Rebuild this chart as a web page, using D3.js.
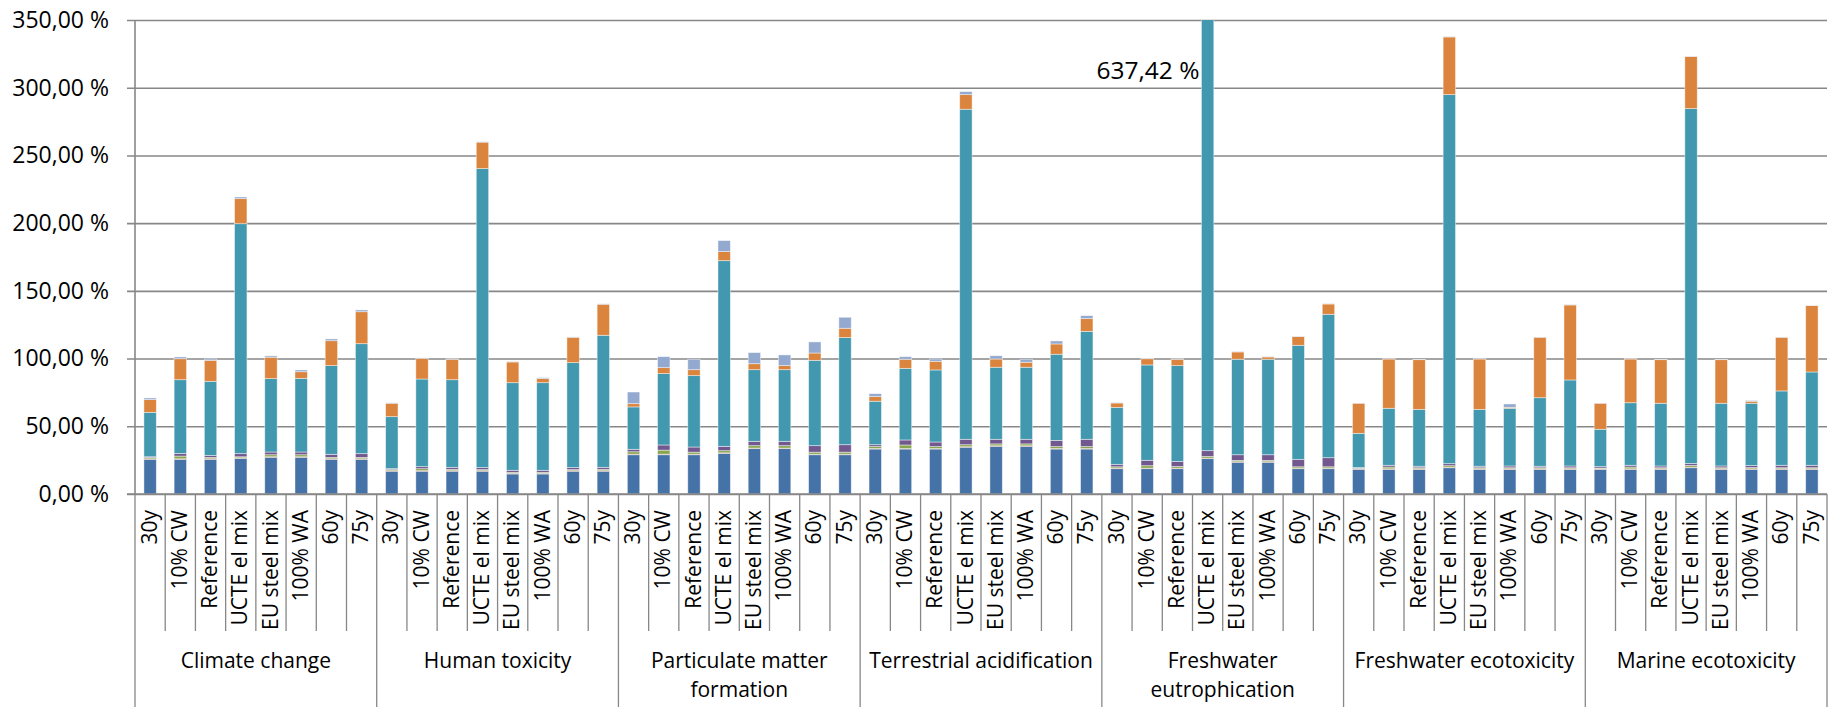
<!DOCTYPE html>
<html>
<head>
<meta charset="utf-8">
<script src="https://cdn.jsdelivr.net/npm/d3@7"></script>
<style>
    body { margin: 0; background: #fff; }
    text { font-family: "Open Sans", sans-serif; fill: #000; }
</style>
</head>
<body>
<div id="chart"></div>
<script>
const groups = ["Climate change", "Human toxicity", "Particulate matter formation", "Terrestrial acidification",
    "Freshwater eutrophication", "Freshwater ecotoxicity", "Marine ecotoxicity"];
const scenarios = ["30y", "10% CW", "Reference", "UCTE el mix", "EU steel mix", "100% WA", "60y", "75y"];
const yTicks = [0, 50, 100, 150, 200, 250, 300, 350];

// stacked contributions in %, bottom to top; 8 scenarios per impact group
const series1 = [
    25.6, 25.6, 25.6, 26.3, 27.1, 27.1, 25.6, 25.6,
    16.8, 16.8, 16.8, 16.8, 14.8, 14.8, 16.8, 16.8,
    29.0, 29.0, 29.0, 30.0, 33.5, 33.5, 29.0, 29.0,
    33.2, 33.2, 33.2, 34.5, 35.2, 35.2, 33.2, 33.2,
    18.7, 18.7, 18.7, 26.1, 23.4, 23.4, 18.7, 18.7,
    18.2, 18.2, 18.2, 19.4, 18.2, 18.2, 18.2, 18.2,
    18.2, 18.2, 18.2, 19.4, 18.2, 18.2, 18.2, 18.2];
const series2 = [
    0.4, 0.4, 0.4, 0.4, 0.4, 0.4, 0.4, 0.4,
    0.4, 0.4, 0.4, 0.4, 0.4, 0.4, 0.4, 0.4,
    0.4, 0.4, 0.4, 0.4, 0.4, 0.4, 0.4, 0.4,
    0.4, 0.4, 0.4, 0.4, 0.4, 0.4, 0.4, 0.4,
    0.4, 0.4, 0.4, 0.4, 0.4, 0.4, 0.4, 0.4,
    0.4, 0.4, 0.4, 0.4, 0.4, 0.4, 0.4, 0.4,
    0.4, 0.4, 0.4, 0.4, 0.4, 0.4, 0.4, 0.4];
const series3 = [
    0.9, 2.0, 1.0, 0.8, 1.5, 1.5, 1.0, 1.0,
    0.8, 1.5, 1.0, 0.8, 0.8, 0.8, 0.8, 1.0,
    1.8, 3.0, 1.5, 1.6, 1.8, 1.8, 1.5, 1.5,
    1.4, 2.6, 1.4, 1.5, 1.4, 1.4, 1.4, 1.4,
    1.0, 1.8, 1.2, 1.2, 1.0, 1.0, 1.0, 1.0,
    0.4, 1.3, 0.8, 1.1, 0.8, 0.8, 0.8, 0.8,
    0.6, 1.3, 0.8, 1.3, 0.8, 0.9, 0.8, 0.8];
const series4 = [
    0.6, 2.0, 1.5, 2.3, 2.0, 2.0, 2.3, 2.8,
    0.7, 1.5, 1.5, 1.5, 1.5, 1.5, 1.5, 1.5,
    1.8, 3.8, 3.8, 3.2, 3.2, 3.2, 4.8, 5.5,
    1.4, 3.7, 3.4, 4.0, 3.4, 3.4, 4.6, 5.4,
    1.8, 4.0, 3.8, 4.3, 4.2, 4.2, 5.5, 6.7,
    0.5, 1.3, 1.1, 1.5, 1.1, 1.3, 1.1, 1.3,
    1.0, 1.3, 1.3, 1.5, 1.3, 1.5, 1.8, 1.8];
const series5 = [
    32.8, 54.4, 54.7, 169.8, 54.2, 54.4, 65.5, 81.2,
    38.4, 64.7, 64.7, 220.8, 64.7, 64.7, 77.5, 97.5,
    31.3, 52.7, 52.7, 137.1, 52.9, 52.9, 63.0, 79.1,
    32.1, 52.9, 53.2, 243.7, 53.2, 53.2, 63.6, 79.7,
    42.1, 70.4, 70.7, 597.02, 70.5, 70.5, 84.2, 105.9,
    25.3, 42.1, 42.0, 272.5, 42.0, 42.6, 50.6, 63.5,
    27.6, 46.2, 46.3, 262.0, 46.3, 46.0, 54.9, 68.9];
const series6 = [
    9.4, 15.5, 15.5, 18.5, 15.8, 4.9, 18.4, 23.6,
    9.9, 15.3, 15.1, 19.5, 15.3, 3.0, 18.7, 22.9,
    2.4, 4.4, 4.4, 6.7, 4.4, 3.0, 5.4, 6.9,
    3.4, 6.7, 6.4, 10.8, 6.1, 3.7, 7.6, 9.4,
    3.2, 4.6, 4.7, 8.0, 5.4, 1.7, 6.4, 7.6,
    22.2, 36.4, 36.7, 42.6, 37.2, 0.7, 44.6, 55.4,
    19.2, 32.3, 32.2, 38.4, 32.2, 1.5, 39.6, 49.0];
const series7 = [
    1.2, 1.3, 1.0, 1.2, 1.0, 1.3, 1.3, 1.3,
    0.3, 0.3, 0.3, 0.3, 0.3, 0.7, 0.3, 0.3,
    8.6, 8.1, 7.7, 8.1, 8.2, 7.9, 8.2, 8.1,
    2.2, 1.9, 1.7, 2.2, 2.4, 2.2, 2.2, 2.2,
    0.3, 0.3, 0.3, 0.4, 0.3, 0.3, 0.3, 0.3,
    0.2, 0.2, 0.2, 0.2, 0.2, 2.5, 0.2, 0.2,
    0.2, 0.2, 0.2, 0.2, 0.2, 0.6, 0.2, 0.2];

const seriesList = [series1, series2, series3, series4, series5, series6, series7];
const keys = ["s1", "s2", "s3", "s4", "s5", "s6", "s7"];
const colors = ["#4572A7", "#AA4643", "#89A54E", "#71588F", "#4198AF", "#DB843D", "#93A9CF"];

const width = 1836;
const height = 707;
const margin = {top: 20, bottom: 213, left: 135, right: 9};
const svgWidth = width - margin.left - margin.right;
const svgHeight = height - margin.top - margin.bottom;

const rows = [];
groups.forEach((g, gi) => {
    scenarios.forEach((s, si) => {
        const i = gi * scenarios.length + si;
        const row = {id: i, group: g, scenario: s};
        keys.forEach((k, ki) => { row[k] = seriesList[ki][i]; });
        rows.push(row);
    });
});

const stacked = d3.stack().keys(keys)(rows);

const x = d3.scaleBand()
    .domain(rows.map(d => d.id))
    .range([0, svgWidth]);

const y = d3.scaleLinear()
    .domain([0, 350])
    .range([svgHeight, 0]);

const barWidth = x.step() * 0.41;
const locale = d3.formatLocale({decimal: ",", thousands: " ", grouping: [3], currency: ["", ""]});
const pct = d => locale.format(".2f")(d) + " %";

const svg = d3.select("#chart")
    .append("svg")
    .attr("width", width)
    .attr("height", height)
    .append("g")
    .attr("transform", `translate(${margin.left},${margin.top})`);

svg.append("defs").append("clipPath")
    .attr("id", "plot-clip")
    .append("rect")
    .attr("x", 0)
    .attr("y", 0)
    .attr("width", svgWidth)
    .attr("height", svgHeight);

// gridlines + y tick marks
const yAxis = d3.axisLeft(y)
    .tickValues(yTicks)
    .tickSize(-svgWidth)
    .tickFormat(pct);

svg.append("g")
    .attr("class", "y axis")
    .call(yAxis)
    .call(g => g.select(".domain").remove())
    .call(g => g.selectAll(".tick line")
        .attr("x1", -8)
        .attr("stroke", "#878787")
        .attr("stroke-width", 1.6))
    .call(g => g.selectAll(".tick text")
        .attr("x", -26)
        .attr("font-size", 23)
        .attr("font-family", "Open Sans"));

svg.append("line")
    .attr("x1", 0).attr("x2", 0)
    .attr("y1", 0).attr("y2", svgHeight)
    .attr("stroke", "#878787")
    .attr("stroke-width", 1.6);

svg.append("g")
    .attr("clip-path", "url(#plot-clip)")
    .selectAll("g")
    .data(stacked)
    .enter().append("g")
    .attr("fill", (d, i) => colors[i])
    .selectAll("rect")
    .data(d => d)
    .enter().append("rect")
    .attr("x", d => x(d.data.id) + (x.bandwidth() - barWidth) / 2)
    .attr("y", d => y(d[1]))
    .attr("width", barWidth)
    .attr("height", d => Math.max(0, y(d[0]) - y(d[1])))
    .attr("stroke", "rgba(255,255,255,0.55)")
    .attr("stroke-width", 0.8);

// label for bars that run off the axis
const totals = rows.map(d => d3.sum(keys, k => d[k]));
svg.selectAll(".over-label")
    .data(rows.filter((d, i) => totals[i] > 350))
    .enter().append("text")
    .attr("class", "over-label")
    .attr("x", d => x(d.id) + (x.bandwidth() - barWidth) / 2 - 2)
    .attr("y", y(350) + 52)
    .attr("text-anchor", "end")
    .attr("dominant-baseline", "middle")
    .attr("font-size", 24.5)
    .text(d => pct(totals[d.id]));

// x axis: scenario labels and separators
const xAxisG = svg.append("g")
    .attr("class", "x axis")
    .attr("transform", `translate(0,${svgHeight})`);

xAxisG.append("line")
    .attr("x1", -8).attr("x2", svgWidth)
    .attr("stroke", "#878787")
    .attr("stroke-width", 1.6);

xAxisG.selectAll(".sep")
    .data(d3.range(rows.length + 1))
    .enter().append("line")
    .attr("class", "sep")
    .attr("x1", i => i * x.step())
    .attr("x2", i => i * x.step())
    .attr("y1", 0)
    .attr("y2", i => (i % scenarios.length === 0) ? margin.bottom : 137)
    .attr("stroke", "#878787")
    .attr("stroke-width", 1.3);

xAxisG.selectAll(".cat")
    .data(rows)
    .enter().append("text")
    .attr("class", "cat")
    .attr("transform", d => `translate(${x(d.id) + x.bandwidth() / 2 + 1},16) rotate(-90)`)
    .attr("text-anchor", "end")
    .attr("dominant-baseline", "middle")
    .attr("font-size", 21)
    .text(d => d.scenario);

const groupW = x.step() * scenarios.length;
const wrapped = {
    "Particulate matter formation": ["Particulate matter", "formation"],
    "Freshwater eutrophication": ["Freshwater", "eutrophication"]
};

xAxisG.selectAll(".grp")
    .data(groups)
    .enter().append("text")
    .attr("class", "grp")
    .attr("x", (d, i) => groupW * i + groupW / 2)
    .attr("y", 168)
    .attr("text-anchor", "middle")
    .attr("dominant-baseline", "middle")
    .attr("font-size", 21)
    .each(function (d) {
        const lines = wrapped[d] || [d];
        d3.select(this).selectAll("tspan")
            .data(lines)
            .enter().append("tspan")
            .attr("x", d3.select(this).attr("x"))
            .attr("dy", (l, i) => i === 0 ? 0 : 29)
            .text(l => l);
    });
</script>
</body>
</html>
